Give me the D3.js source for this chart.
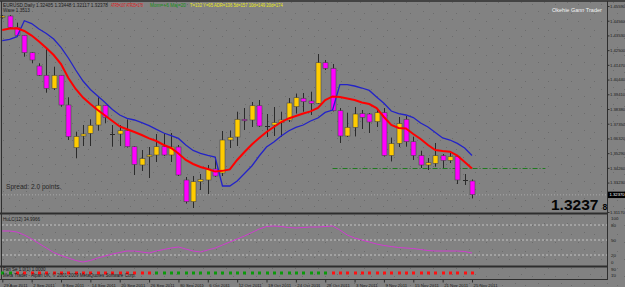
<!DOCTYPE html>
<html>
<head>
<meta charset="utf-8">
<script src="https://cdn.jsdelivr.net/npm/d3@7"></script>
<style>
  body { margin: 0; background: #838383; }
  svg { display: block; font-family: "Liberation Sans", Arial, sans-serif; }
</style>
</head>
<body>
<div id="chart"></div>
<script>
/* Trading days shown on the chart */
const dates = [
  "2011-08-29","2011-08-30","2011-08-31","2011-09-01","2011-09-02","2011-09-05","2011-09-06","2011-09-07","2011-09-08","2011-09-09",
  "2011-09-12","2011-09-13","2011-09-14","2011-09-15","2011-09-16","2011-09-19","2011-09-20","2011-09-21","2011-09-22","2011-09-23",
  "2011-09-26","2011-09-27","2011-09-28","2011-09-29","2011-09-30","2011-10-03","2011-10-04","2011-10-05","2011-10-06","2011-10-07",
  "2011-10-10","2011-10-11","2011-10-12","2011-10-13","2011-10-14","2011-10-17","2011-10-18","2011-10-19","2011-10-20","2011-10-21",
  "2011-10-24","2011-10-25","2011-10-26","2011-10-27","2011-10-28","2011-10-31","2011-11-01","2011-11-02","2011-11-03","2011-11-04",
  "2011-11-07","2011-11-08","2011-11-09","2011-11-10","2011-11-11","2011-11-14","2011-11-15","2011-11-16","2011-11-17","2011-11-18",
  "2011-11-21","2011-11-22","2011-11-23","2011-11-24","2011-11-25"];

/* EURUSD daily OHLC */
const open = [1.4479,1.4489,1.4410,1.4354,1.4232,1.4139,1.4074,1.3983,1.4074,1.3866,
  1.3567,1.3649,1.3668,1.3726,1.3864,1.3663,1.3663,1.3686,1.3574,1.3446,
  1.3504,1.3516,1.3574,1.3516,1.3572,1.3341,1.3189,1.3329,1.3341,1.3418,
  1.3390,1.3621,1.3642,1.3766,1.3761,1.3861,1.3721,1.3726,1.3742,1.3761,
  1.3854,1.3913,1.3894,1.3878,1.4162,1.4123,1.3826,1.3649,1.3710,1.3806,
  1.3803,1.3749,1.3812,1.3512,1.3598,1.3766,1.3609,1.3512,1.3446,1.3458,
  1.3511,1.3478,1.3504,1.3341,1.3334];
const high = [1.4496,1.4496,1.4442,1.4356,1.4237,1.4158,1.4256,1.4134,1.4076,1.3920,
  1.3679,1.3726,1.3766,1.3920,1.3866,1.3726,1.3726,1.3765,1.3579,1.3551,
  1.3572,1.3663,1.3670,1.3670,1.3586,1.3362,1.3369,1.3383,1.3446,1.3502,
  1.3684,1.3688,1.3819,1.3845,1.3887,1.3901,1.3803,1.3852,1.3819,1.3915,
  1.3946,1.3950,1.3959,1.4223,1.4181,1.4153,1.3845,1.3812,1.3852,1.3831,
  1.3810,1.3831,1.3845,1.3638,1.3782,1.3789,1.3644,1.3546,1.3495,1.3600,
  1.3523,1.3530,1.3516,1.3383,1.3345];
const low = [1.4471,1.4405,1.4344,1.4204,1.4158,1.4069,1.3952,1.3971,1.3854,1.3621,
  1.3493,1.3579,1.3579,1.3686,1.3738,1.3574,1.3579,1.3568,1.3376,1.3404,
  1.3355,1.3467,1.3509,1.3467,1.3369,1.3176,1.3145,1.3271,1.3243,1.3362,
  1.3369,1.3565,1.3579,1.3691,1.3712,1.3712,1.3642,1.3649,1.3644,1.3747,
  1.3806,1.3819,1.3796,1.3873,1.4111,1.3821,1.3600,1.3642,1.3646,1.3698,
  1.3670,1.3712,1.3505,1.3471,1.3572,1.3574,1.3481,1.3425,1.3411,1.3434,
  1.3425,1.3460,1.3313,1.3306,1.3212];
const close = [1.4489,1.4410,1.4354,1.4232,1.4181,1.4074,1.3983,1.4074,1.3866,1.3644,
  1.3646,1.3663,1.3724,1.3864,1.3780,1.3662,1.3686,1.3574,1.3450,1.3491,
  1.3516,1.3574,1.3516,1.3572,1.3376,1.3189,1.3329,1.3345,1.3418,1.3369,
  1.3621,1.3640,1.3766,1.3756,1.3861,1.3719,1.3721,1.3742,1.3761,1.3880,
  1.3917,1.3889,1.3878,1.4162,1.4123,1.3826,1.3649,1.3710,1.3803,1.3780,
  1.3747,1.3812,1.3512,1.3596,1.3736,1.3609,1.3512,1.3446,1.3462,1.3511,
  1.3478,1.3504,1.3341,1.3339,1.3238];

/* Overlay lines on the price panel */
const redLine = [1.4391,1.4401,1.4403,1.4384,1.4352,1.4311,1.4265,1.4216,1.4153,1.4055,
  1.3978,1.3918,1.3873,1.3831,1.3792,1.3754,1.3716,1.3696,1.3677,1.3656,
  1.3632,1.3614,1.3586,1.3565,1.3526,1.3481,1.3453,1.3432,1.3418,1.3400,
  1.3405,1.3415,1.3481,1.3537,1.3590,1.3635,1.3677,1.3712,1.3747,1.3772,
  1.3789,1.3806,1.3821,1.3845,1.3901,1.3926,1.3922,1.3912,1.3901,1.3884,
  1.3873,1.3845,1.3782,1.3726,1.3705,1.3701,1.3663,1.3628,1.3586,1.3551,
  1.3544,1.3539,1.3512,1.3467,1.3421];
const blueLine = [1.4317,1.4326,1.4344,1.4456,1.4436,1.4398,1.4366,1.4328,1.4269,1.4195,
  1.4111,1.4034,1.3975,1.3929,1.3884,1.3835,1.3796,1.3772,1.3761,1.3743,
  1.3722,1.3695,1.3670,1.3652,1.3632,1.3586,1.3548,1.3527,1.3513,1.3502,
  1.3299,1.3299,1.3334,1.3386,1.3439,1.3509,1.3572,1.3607,1.3649,1.3684,
  1.3709,1.3726,1.3754,1.3775,1.3814,1.3831,1.4009,1.4009,1.3999,1.3985,
  1.3968,1.3922,1.3878,1.3824,1.3806,1.3796,1.3778,1.3740,1.3712,1.3674,
  1.3635,1.3621,1.3597,1.3565,1.3512];

/* Oscillator panel (0-100) */
const osc = [68,68,66,60,52,43,34,25,19,14,
  9,6,9,14,18,22,25,28,28,26,
  24,28,31,34,36,32,28,26,30,34,
  40,46,52,58,65,72,77,78,77,75,
  74,75,76,76,77,78,70,60,54,50,
  46,42,39,37,35,34,33,31,29,28,
  28,28,28,27,24];
const oscTicks = [100, 80, 50, 20, 0];
const oscLevels = [80, 50, 20];

/* Signal dots: 1 = green, -1 = red */
const signal = [1,1,-1,-1,-1,-1,-1,-1,-1,-1,
  -1,-1,-1,-1,-1,-1,-1,-1,-1,-1,
  -1,1,1,1,1,1,1,1,1,1,
  1,1,1,1,1,1,1,1,1,1,
  1,1,1,1,1,-1,-1,-1,-1,-1,
  -1,-1,-1,-1,-1,-1,-1,-1,-1,-1,
  -1,-1,-1,-1,-1];
const signalTicks = [90, 10];

/* Price axis labels (the one under the bid box is hidden) and levels */
const priceTicks = [1.4559,1.4456,1.4353,1.4250,1.4147,1.4044,1.3941,1.3838,1.3735,1.3632,1.3529,1.3426,1.3323,1.3117];
const bid = 1.3237;
const levelPrice = 1.3425, levelFrom = 45, levelTo = 74;

const width = 625, height = 287;
const axisX = 607;

const svg = d3.select("#chart")
  .append("svg")
    .attr("width", width)
    .attr("height", height)
    .attr("viewBox", [0, 0, width, height]);

/* Speckled background like the terminal's texture */
const defs = svg.append("defs");
const pat = defs.append("pattern")
  .attr("id", "speck")
  .attr("patternUnits", "userSpaceOnUse")
  .attr("width", 23).attr("height", 17);
pat.append("rect").attr("width", 23).attr("height", 17).attr("fill", "#828282");
[[3,4],[15,2],[9,11],[19,13]].forEach(([x, y]) => {
  pat.append("rect").attr("x", x).attr("y", y).attr("width", 1).attr("height", 1).attr("fill", "#6c6c6c");
});
svg.append("rect").attr("width", width).attr("height", height).attr("fill", "url(#speck)");

/* Scales */
const parseDate = d3.timeParse("%Y-%m-%d");
const fmtDate = d3.timeFormat("%-d %b %Y");
const xScale = d3.scaleLinear().domain([0, dates.length - 1]).range([2.3, 472]);
const yScale = d3.scaleLinear().domain([1.3117, 1.4559]).range([212, 6]);
const oScale = d3.scaleLinear().domain([0, 100]).range([265, 215]);

const candles = dates.map((d, i) => ({
  i, date: parseDate(d), o: open[i], h: high[i], l: low[i], c: close[i]
}));

/* Bid line and support level */
svg.append("line")
  .attr("x1", 2).attr("x2", axisX)
  .attr("y1", yScale(bid)).attr("y2", yScale(bid))
  .attr("stroke", "#a8a8a8").attr("stroke-width", 1)
  .attr("stroke-dasharray", "1,2");

svg.append("line")
  .attr("x1", xScale(levelFrom)).attr("x2", xScale(levelTo))
  .attr("y1", Math.round(yScale(levelPrice)) + 0.5).attr("y2", Math.round(yScale(levelPrice)) + 0.5)
  .attr("stroke", "#1f7a1f").attr("stroke-width", 1)
  .attr("stroke-dasharray", "5,2,1,2");

/* Candles */
const cg = svg.append("g");
cg.selectAll("line.wick")
  .data(candles)
  .join("line")
    .attr("class", "wick")
    .attr("x1", d => Math.round(xScale(d.i)) + 0.5)
    .attr("x2", d => Math.round(xScale(d.i)) + 0.5)
    .attr("y1", d => yScale(d.h))
    .attr("y2", d => yScale(d.l))
    .attr("stroke", "#2a2a2a")
    .attr("stroke-width", 1);

cg.selectAll("rect.body")
  .data(candles.filter(d => Math.abs(d.o - d.c) >= 0.0002))
  .join("rect")
    .attr("class", "body")
    .attr("x", d => Math.round(xScale(d.i)) - 2)
    .attr("y", d => yScale(Math.max(d.o, d.c)))
    .attr("width", 5)
    .attr("height", d => Math.max(1, yScale(Math.min(d.o, d.c)) - yScale(Math.max(d.o, d.c))))
    .attr("fill", d => d.c > d.o ? "#ffcc00" : "#ff00ff")
    .attr("stroke", "#4a4a4a")
    .attr("stroke-width", 0.6);

cg.selectAll("line.doji")
  .data(candles.filter(d => Math.abs(d.o - d.c) < 0.0002))
  .join("line")
    .attr("class", "doji")
    .attr("x1", d => Math.round(xScale(d.i)) - 2)
    .attr("x2", d => Math.round(xScale(d.i)) + 3)
    .attr("y1", d => Math.round(yScale(d.o)) + 0.5)
    .attr("y2", d => Math.round(yScale(d.o)) + 0.5)
    .attr("stroke", "#2a2a2a");

/* Red and blue lines */
const line = d3.line()
  .x((d, i) => xScale(i))
  .y(d => yScale(d));

svg.append("path")
  .attr("d", line(blueLine))
  .attr("fill", "none")
  .attr("stroke", "#2323c8")
  .attr("stroke-width", 1.3);

svg.append("path")
  .attr("d", line(redLine))
  .attr("fill", "none")
  .attr("stroke", "#ff0000")
  .attr("stroke-width", 2);

/* Panel frames */
const frame = svg.append("g").attr("stroke", "#2e2e2e");
frame.append("line").attr("x1", 0).attr("x2", width).attr("y1", 1).attr("y2", 1).attr("stroke-width", 1.5);
frame.append("line").attr("x1", 1.5).attr("x2", 1.5).attr("y1", 1).attr("y2", 279).attr("stroke-width", 1);
frame.append("line").attr("x1", axisX + 0.5).attr("x2", axisX + 0.5).attr("y1", 1).attr("y2", 279).attr("stroke-width", 1);
frame.append("line").attr("x1", 0).attr("x2", axisX + 1).attr("y1", 213.5).attr("y2", 213.5).attr("stroke-width", 2);
frame.append("line").attr("x1", 0).attr("x2", axisX + 1).attr("y1", 266.5).attr("y2", 266.5).attr("stroke-width", 2);
frame.append("line").attr("x1", 0).attr("x2", axisX + 1).attr("y1", 279.5).attr("y2", 279.5).attr("stroke-width", 1);

/* Price axis */
const yAxis = d3.axisRight(yScale)
  .tickValues(priceTicks)
  .tickFormat(d3.format(".5f"))
  .tickSize(2)
  .tickPadding(0.5);
const yg = svg.append("g")
  .attr("transform", `translate(${axisX + 0.5},0)`)
  .call(yAxis);
yg.select(".domain").remove();
yg.selectAll("line").attr("stroke", "#2e2e2e");
yg.selectAll("text").attr("fill", "#1a1a1a").style("font-size", "4.2px");

/* Bid price box */
svg.append("rect")
  .attr("x", axisX + 1).attr("y", yScale(bid) - 3.2)
  .attr("width", width - axisX).attr("height", 6.4)
  .attr("fill", "#000");
svg.append("text")
  .attr("x", axisX + 2.5).attr("y", yScale(bid) + 1.6)
  .attr("fill", "#fff").style("font-size", "4.2px")
  .text(d3.format(".5f")(bid));

/* Oscillator panel */
svg.append("g")
  .selectAll("line")
  .data(oscLevels)
  .join("line")
    .attr("x1", 2).attr("x2", axisX)
    .attr("y1", d => oScale(d)).attr("y2", d => oScale(d))
    .attr("stroke", "#d4d4d4")
    .attr("stroke-width", 0.8)
    .attr("stroke-dasharray", "2,2");

svg.append("path")
  .attr("d", d3.line().x((d, i) => xScale(i)).y(d => oScale(d))(osc))
  .attr("fill", "none")
  .attr("stroke", "#d03cd0")
  .attr("stroke-width", 1);

svg.append("g")
  .selectAll("text")
  .data(oscTicks)
  .join("text")
    .attr("x", axisX + 4)
    .attr("y", d => Math.max(218, Math.min(262, oScale(d))) + 1.6)
    .attr("fill", "#1a1a1a")
    .style("font-size", "4.4px")
    .text(d => d);

/* Signal dots */
svg.append("g")
  .selectAll("rect")
  .data(signal)
  .join("rect")
    .attr("x", (d, i) => Math.round(xScale(i)) - 1)
    .attr("y", 271.5)
    .attr("width", 3).attr("height", 3)
    .attr("fill", d => d > 0 ? "#0a9a0a" : "#ff1010");

svg.append("g")
  .selectAll("text")
  .data(signalTicks)
  .join("text")
    .attr("x", axisX + 4)
    .attr("y", (d, i) => i === 0 ? 270.6 : 277.4)
    .attr("fill", "#1a1a1a")
    .style("font-size", "4.4px")
    .text(d => d);

/* Date axis */
const xAxis = d3.axisBottom(xScale)
  .tickValues(d3.range(0, dates.length, 4))
  .tickFormat(i => fmtDate(candles[i].date))
  .tickSize(3)
  .tickPadding(1);
const xg = svg.append("g")
  .attr("transform", "translate(0,279.5)")
  .call(xAxis);
xg.select(".domain").remove();
xg.selectAll("line").attr("stroke", "#2e2e2e");
xg.selectAll("text")
  .attr("fill", "#1a1a1a")
  .style("font-size", "4.3px")
  .style("text-anchor", "start")
  .attr("dx", "1");

/* Header: each coloured segment squeezed into its own span */
const headerParts = [
  {text: "EURUSD,Daily 1.32405 1.33448 1.32117 1.32378", x: 3, w: 105, color: "#1a1a1a"},
  {text: "ATR5=107 ATR25=170", x: 111, w: 32, color: "#e01818"},
  {text: "Mom=+6 Maj=20", x: 150, w: 36, color: "#189018"},
  {text: "T=132 Y=95 ADR=136 5d=157 10d=149 20d=174", x: 190, w: 93, color: "#e8e818"}
];
svg.append("g")
  .selectAll("text")
  .data(headerParts)
  .join("text")
    .attr("fill", d => d.color)
    .style("font-size", "4.6px")
    .text(d => d.text)
    .attr("transform", function(d) {
      const sx = d.w / this.getComputedTextLength();
      return `translate(${d.x},7.3) scale(${sx},1)`;
    });

svg.append("text").attr("x", 3).attr("y", 12.3).attr("fill", "#1a1a1a").style("font-size", "4.6px").text("Wave 1.3513");

svg.append("text").attr("x", 552).attr("y", 12).attr("fill", "#f4f4f4").style("font-size", "5.5px").text("Okehie Gann Trader");

svg.append("text").attr("x", 6).attr("y", 189).attr("fill", "#262626").style("font-size", "6.6px").text("Spread: 2.0 points.");

svg.append("text").attr("x", 551).attr("y", 210).attr("fill", "#050505")
  .style("font-size", "15.5px").style("font-weight", "bold").text("1.3237");
svg.append("text").attr("x", 602.5).attr("y", 210).attr("fill", "#050505")
  .style("font-size", "8.5px").style("font-weight", "bold").text("8");

svg.append("text").attr("x", 3).attr("y", 221).attr("fill", "#1a1a1a").style("font-size", "4.5px").text("HuLC(12) 34.9966");
svg.append("text").attr("x", 3).attr("y", 270.8).attr("fill", "#1a1a1a").style("font-size", "4.5px").text("Fan Se 1.0(1) 1.0000");
svg.append("text").attr("x", 3).attr("y", 277).attr("fill", "#1a1a1a").style("font-size", "4.5px").text("Meta Trader - Alpari UK, © 2001-2009 MetaQuotes Software Corp.");
</script>
</body>
</html>
